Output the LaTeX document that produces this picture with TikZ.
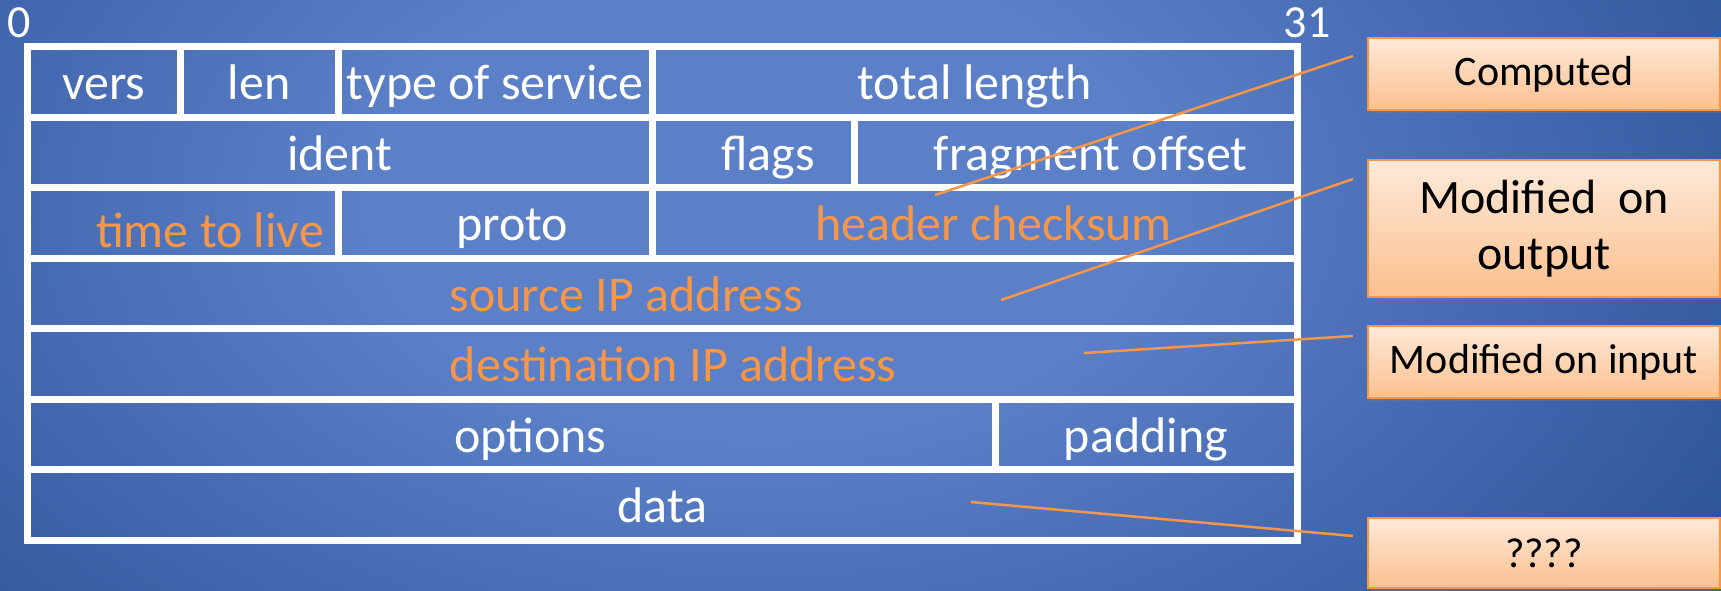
\documentclass[tikz,border=0pt]{standalone}
\usepackage{fontspec}
\setmainfont{Carlito}
\usetikzlibrary{positioning,calc,shadows}
\usepackage{xcolor}
\definecolor{navy}{HTML}{1B4186}
\definecolor{sky}{HTML}{5B80C8}
\definecolor{peach}{HTML}{F79646}
\definecolor{cream}{HTML}{FDE9D9}
\definecolor{apricot}{HTML}{FBC08E}
\pgfdeclareradialshading{glow}{\pgfpoint{0bp}{0bp}}{color(0bp)=(sky); color(10bp)=(sky); color(36bp)=(navy); color(50bp)=(navy)}
\tikzset{
  cell/.style={draw=white,line width=7pt,anchor=north west,inner sep=0pt,outer sep=0pt,minimum height=70.5pt,text height=40pt,text depth=4pt,text=white,font=\fontsize{50}{60}\selectfont},
  hot/.style={cell,text=peach},
  note/.style={draw=peach,line width=2pt,top color=cream,bottom color=apricot,anchor=north west,inner sep=0pt,outer sep=0pt,minimum width=352pt,minimum height=72pt,align=center,font=\fontsize{42}{50}\selectfont,drop shadow={opacity=0.35,shadow xshift=3pt,shadow yshift=-3pt}},
  lead/.style={draw=peach,line width=2.5pt}
}

\begin{document}
\begin{tikzpicture}[x=1pt,y=-1pt]
    \useasboundingbox (0,0) rectangle (1721,590);
    \begin{scope}
      \clip (0,0) rectangle (1721,590);
      \shade[shading=glow] (-220,-400) rectangle (1740,800);
    \end{scope}

    % datagram header, one row per 32 bits
    \node[cell,minimum width=152.5pt] (vers) at (27.5,46.5) {vers};
    \node[cell,minimum width=158.5pt] (len) at (vers.north east) {len};
    \node[cell,minimum width=313.5pt] (tos) at (len.north east) {type of service};
    \node[cell,minimum width=645pt] (total) at (tos.north east) {total length};
    \node[cell,minimum width=624.5pt] (ident) at (vers.south west) {ident};
    \node[cell,minimum width=202.5pt] (flags) at (ident.north east) {\hspace*{30pt}flags};
    \node[cell,minimum width=442.5pt] (frag) at (flags.north east) {\hspace*{30pt}fragment offset};
    \node[hot,minimum width=311pt,text height=54pt] (ttl) at (ident.south west) {\hspace*{54pt}time to live};
    \node[cell,minimum width=313.5pt] (proto) at (ttl.north east) {\hspace*{34pt}proto};
    \node[hot,minimum width=645pt] (sum) at (proto.north east) {\hspace*{38pt}header checksum};
    \node[hot,minimum width=1269.5pt] (src) at (ttl.south west) {source IP address\hspace*{72pt}};
    \node[hot,minimum width=1269.5pt] (dst) at (src.south west) {\hspace*{22pt}destination IP address};
    \node[cell,minimum width=967.5pt] (opts) at (dst.south west) {\hspace*{38pt}options};
    \node[cell,minimum width=302pt] (pad) at (opts.north east) {padding};
    \node[cell,minimum width=1269.5pt] (data) at (opts.south west) {data};

    \node[text=white,font=\fontsize{46}{50}\selectfont,anchor=base] (bit0) at (19,37) {0};
    \node[text=white,font=\fontsize{46}{50}\selectfont,anchor=base] (bit31) at (1307,37) {31};

    % notes on the right
    \node[note] (comp) at (1368,38) {Computed};
    \node[note,minimum height=137pt,font=\fontsize{48}{56}\selectfont] (outp) at (1368,160) {Modified\ \ on\\output};
    \node[note] (inp) at (1368,326) {Modified on input};
    \node[note,minimum height=70pt] (unk) at (1368,518) {????};

    \coordinate (sumtip) at (935,195);
    \coordinate (srctip) at (1001,300);
    \coordinate (dsttip) at (1084,353);
    \coordinate (datatip) at (971,502);
    \draw[lead] ($(comp.north west)+(-15,18)$) -- (sumtip);
    \draw[lead] ($(outp.north west)+(-15,19)$) -- (srctip);
    \draw[lead] ($(inp.north west)+(-15,10)$) -- (dsttip);
    \draw[lead] ($(unk.north west)+(-15,18)$) -- (datatip);
  \end{tikzpicture}
\end{document}
